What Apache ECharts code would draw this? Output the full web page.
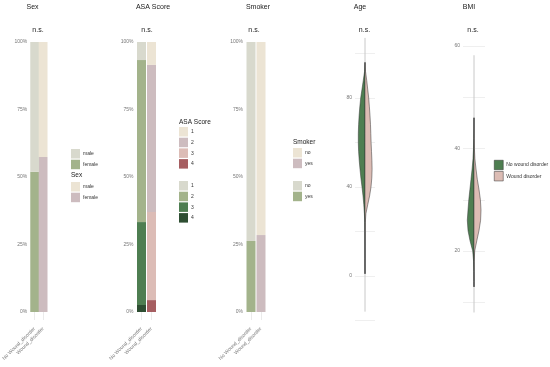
<!DOCTYPE html>
<html><head><meta charset="utf-8">
<script src="https://cdn.jsdelivr.net/npm/echarts@6/dist/echarts.min.js"></script>
<style>html,body{margin:0;padding:0;background:#fff}#c{width:550px;height:367px}</style>
</head><body><div id="c"></div>
<script>
// ---------- data ----------
const groups = ['No Wound_disorder', 'Wound_disorder'];
const panelTitles = ['Sex', 'ASA Score', 'Smoker', 'Age', 'BMI'];
const testLabels = ['n.s.', 'n.s.', 'n.s.', 'n.s.', 'n.s.'];

const sexLevels = ['male', 'female'];
const sexMale = [48.1, 42.6];
const sexFemale = [51.9, 57.4];

const asaLevels = ['1', '2', '3', '4'];
const asa1 = [6.7, 8.5];
const asa2 = [60.0, 54.5];
const asa3 = [30.7, 32.6];
const asa4 = [2.6, 4.4];

const smokerLevels = ['no', 'yes'];
const smokerNo = [73.7, 71.5];
const smokerYes = [26.3, 28.5];

const violinGroups = ['No wound disorder', 'Wound disorder'];
const ageValues = [96, 92, 88, 84, 80, 76, 72, 68, 64, 60, 56, 52, 48, 44, 40, 36, 32, 28, 24, 20, 14, 8, 1];
const ageDensNo = [0, 0.4, 1.7, 3.0, 4.3, 5.2, 5.9, 6.4, 6.7, 6.7, 6.4, 5.8, 5.0, 4.1, 3.0, 2.0, 1.2, 0.6, 0.25, 0.1, 0.04, 0.02, 0];
const ageDensYes = [0, 0.5, 1.7, 2.7, 3.7, 4.4, 5.0, 5.5, 5.8, 6.1, 6.5, 6.9, 7.1, 6.8, 6.0, 4.6, 2.7, 0.9, 0.3, 0.1, 0.03, 0, 0];
const ageTail = [-16, 107];
const ageTicks = [0, 40, 80];

const bmiValues = [46, 44, 42, 40, 38, 36, 34, 32, 30, 28, 26, 24, 22, 20, 18, 16, 14, 13];
const bmiDensNo = [0, 0.05, 0.2, 0.5, 1.0, 1.9, 3.0, 4.1, 5.2, 6.0, 6.7, 6.0, 4.0, 1.3, 0.4, 0.1, 0.02, 0];
const bmiDensYes = [0, 0.05, 0.15, 0.4, 0.9, 2.0, 3.3, 5.0, 6.4, 7.0, 6.6, 5.0, 2.8, 0.7, 0.2, 0.05, 0, 0];
const bmiTail = [8.0, 58.2];
const bmiTicks = [20, 40, 60];

// ---------- styles ----------
const FONT = 'Liberation Sans, Arial, sans-serif';
const colNW = ['#d8d9cd', '#a3b38b', '#4e7e51', '#2e4e32'];
const colW = ['#ece4d4', '#cdbcbf', '#dcbcb6', '#a65e61'];
const violinCol = ['#4e7e51', '#dcbcb4'];
const tickCol = '#777';

const barGrids = [
  {left: 27.5, top: 42, width: 20, height: 270},
  {left: 136.5, top: 42, width: 20, height: 270},
  {left: 246, top: 42, width: 20, height: 270}
];
const grids = barGrids.concat([
  {left: 355, top: 37, width: 20, height: 290},
  {left: 463, top: 37, width: 22, height: 290}
]);

const xAxes = [], yAxes = [], series = [];
barGrids.forEach((g, i) => {
  xAxes.push({
    gridIndex: i, type: 'category', data: groups,
    axisLine: {show: false},
    axisTick: {show: true, alignWithLabel: true, length: 8, lineStyle: {color: '#ebebeb'}},
    axisLabel: {rotate: 45, fontSize: 5, color: tickCol, margin: 16, interval: 0, fontFamily: FONT}
  });
  yAxes.push({
    gridIndex: i, type: 'value', min: 0, max: 100, interval: 25,
    axisLine: {show: false}, axisTick: {show: false}, splitLine: {show: false},
    axisLabel: {fontSize: 5, color: tickCol, margin: 3, fontFamily: FONT, formatter: v => v + '%'}
  });
});
// violin axes
[[-10, 10, -22.9, 107.4, 20, ageTicks], [-11, 11, 5.17, 61.76, 10, bmiTicks]].forEach((a, k) => {
  const gi = 3 + k;
  xAxes.push({gridIndex: gi, type: 'value', min: a[0], max: a[1], show: false});
  yAxes.push({
    gridIndex: gi, type: 'value', min: a[2], max: a[3], minInterval: a[4], maxInterval: a[4],
    axisLine: {show: false}, axisTick: {show: false},
    splitLine: {show: true, showMinLine: false, showMaxLine: false, lineStyle: {color: '#ebebeb', width: 0.8}},
    axisLabel: {fontSize: 5, color: tickCol, margin: 3, fontFamily: FONT, showMinLabel: false, showMaxLabel: false,
      formatter: v => a[5].includes(v) ? String(v) : ''}
  });
});

function barSeries(name, gi, stack, vals, cNW, cW) {
  return {
    type: 'bar', name, stack, xAxisIndex: gi, yAxisIndex: gi, barWidth: 9,
    itemStyle: {color: cNW},
    data: [{value: vals[0], itemStyle: {color: cNW}}, {value: vals[1], itemStyle: {color: cW}}]
  };
}
// Sex (bottom first)
series.push(barSeries('female', 0, 'sex', sexFemale, colNW[1], colW[1]));
series.push(barSeries('male', 0, 'sex', sexMale, colNW[0], colW[0]));
// ASA
series.push(barSeries('4', 1, 'asa', asa4, colNW[3], colW[3]));
series.push(barSeries('3', 1, 'asa', asa3, colNW[2], colW[2]));
series.push(barSeries('2', 1, 'asa', asa2, colNW[1], colW[1]));
series.push(barSeries('1', 1, 'asa', asa1, colNW[0], colW[0]));
// Smoker
series.push(barSeries('yes', 2, 'smk', smokerYes, colNW[1], colW[1]));
series.push(barSeries('no', 2, 'smk', smokerNo, colNW[0], colW[0]));

function tailSeries(gi, tail) {
  return {
    type: 'line', xAxisIndex: gi, yAxisIndex: gi, symbol: 'none', silent: true, z: 1,
    lineStyle: {color: '#c8c8c8', width: 1},
    data: [[0, tail[0]], [0, tail[1]]]
  };
}
function violinSeries(name, gi, vals, dens, side, color) {
  return {
    type: 'custom', name, xAxisIndex: gi, yAxisIndex: gi, z: 3, silent: true,
    itemStyle: {color},
    data: [[0, vals[0]]],
    renderItem: (params, api) => {
      const outer = vals.map((v, i) => api.coord([side * dens[i], v]));
      const inner = vals.slice().reverse().map(v => api.coord([0, v]));
      return {type: 'polygon', shape: {points: outer.concat(inner)},
        style: {fill: color, stroke: '#333', lineWidth: 0.5}};
    }
  };
}
series.push(tailSeries(3, ageTail));
series.push(violinSeries(violinGroups[0], 3, ageValues, ageDensNo, -1, violinCol[0]));
series.push(violinSeries(violinGroups[1], 3, ageValues, ageDensYes, 1, violinCol[1]));
series.push(tailSeries(4, bmiTail));
series.push(violinSeries(violinGroups[0], 4, bmiValues, bmiDensNo, -1, violinCol[0]));
series.push(violinSeries(violinGroups[1], 4, bmiValues, bmiDensYes, 1, violinCol[1]));

function legend(left, top, names, colors, border) {
  return {
    left, top, orient: 'vertical', padding: 0, itemWidth: 9, itemHeight: 9.5, itemGap: 1.2,
    icon: 'rect', selectedMode: false,
    textStyle: {fontSize: 5, color: '#333', fontFamily: FONT, padding: [0, 0, 0, -2]},
    data: names.map((n, i) => ({name: n, itemStyle: Object.assign({color: colors[i]},
      border ? {borderColor: '#333', borderWidth: 0.5} : {borderWidth: 0})}))
  };
}
const legends = [
  legend(71, 149, sexLevels, [colNW[0], colNW[1]]),
  legend(71, 182, sexLevels, [colW[0], colW[1]]),
  legend(179, 127, asaLevels, colW),
  legend(179, 181, asaLevels, colNW),
  legend(293, 148, smokerLevels, [colW[0], colW[1]]),
  legend(293, 181, smokerLevels, [colNW[0], colNW[1]]),
  legend(494, 160, violinGroups, violinCol, true)
];

const titlePos = [[32.5, 7.5], [153, 7.5], [258, 7.5], [360, 7.5], [469, 7.5]];
const testPos = [[38, 30], [147, 30], [254, 30], [364.5, 30], [473, 30]];
const legendTitles = [['Sex', 71, 175], ['ASA Score', 179, 122], ['Smoker', 293, 142]];
const graphics = [];
panelTitles.forEach((t, i) => graphics.push({type: 'text', x: titlePos[i][0], y: titlePos[i][1],
  style: {text: t, fontSize: 7, fill: '#1a1a1a', fontFamily: FONT, textAlign: 'center', textVerticalAlign: 'middle'}}));
testLabels.forEach((t, i) => graphics.push({type: 'text', x: testPos[i][0], y: testPos[i][1],
  style: {text: t, fontSize: 7, fill: '#1a1a1a', fontFamily: FONT, textAlign: 'center', textVerticalAlign: 'middle'}}));
legendTitles.forEach(t => graphics.push({type: 'text', x: t[1], y: t[2],
  style: {text: t[0], fontSize: 6.5, fill: '#1a1a1a', fontFamily: FONT, textAlign: 'left', textVerticalAlign: 'middle'}}));

const chart = echarts.init(document.getElementById('c'), null, {renderer: 'canvas'});
chart.setOption({
  animation: false,
  backgroundColor: '#fff',
  grid: grids,
  xAxis: xAxes,
  yAxis: yAxes,
  legend: legends,
  graphic: graphics,
  series
});
</script></body></html>
